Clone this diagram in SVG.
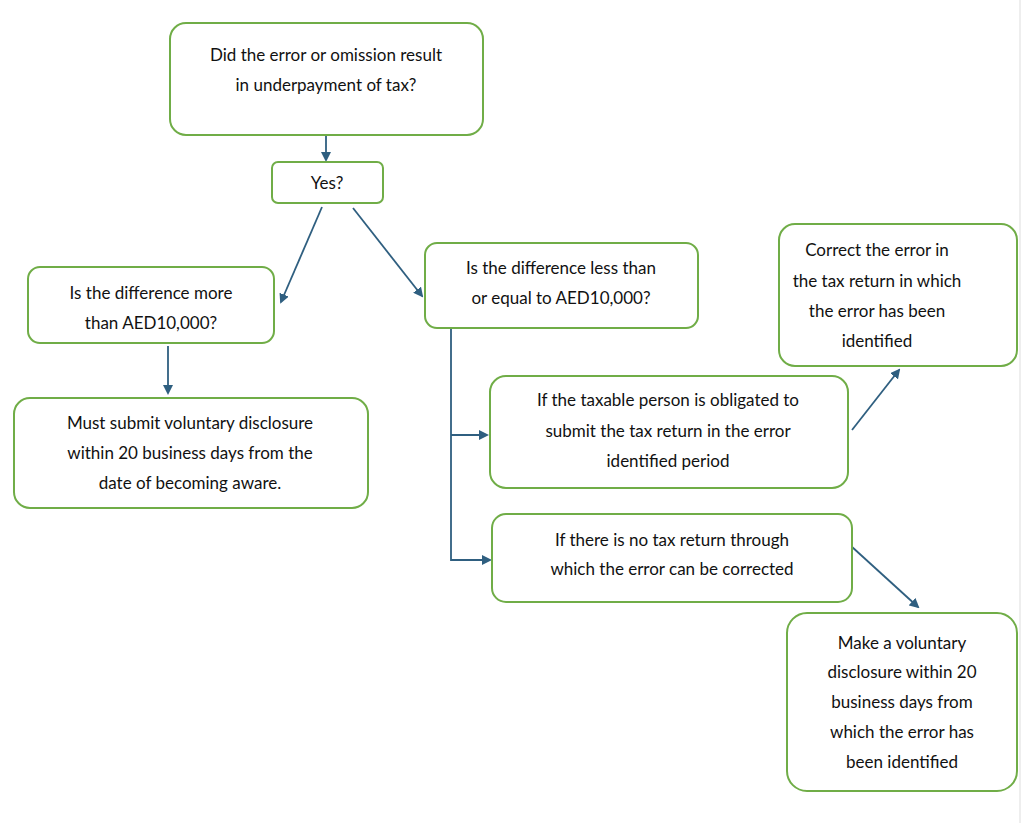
<svg xmlns="http://www.w3.org/2000/svg" width="1024" height="823" viewBox="0 0 1024 823">
<style>
.b{fill:#fff;stroke:#70ad47;stroke-width:2}
.t{font-family:Lato,"Open Sans",sans-serif;font-size:17px;fill:#111;text-anchor:middle}
.c{stroke:#2f5f80;stroke-width:1.8;fill:none}
</style>
<defs><marker id="a" markerWidth="10" markerHeight="10" refX="8" refY="5" orient="auto" markerUnits="userSpaceOnUse"><path d="M0,0 L10,5 L0,10 z" fill="#2f5f80"/></marker></defs>
<rect width="1024" height="823" fill="#fff"/>
<line x1="1020" y1="0" x2="1020" y2="823" stroke="#ddd"/>
<g id="connectors">
<line class="c" x1="326" y1="135" x2="326" y2="160" marker-end="url(#a)"/>
<line class="c" x1="322" y1="207" x2="281" y2="302" marker-end="url(#a)"/>
<line class="c" x1="353" y1="208" x2="422" y2="296" marker-end="url(#a)"/>
<line class="c" x1="168" y1="346" x2="168" y2="393" marker-end="url(#a)"/>
<polyline class="c" points="451,328 451,560 490,560" marker-end="url(#a)"/>
<line class="c" x1="451" y1="435" x2="487" y2="435" marker-end="url(#a)"/>
<line class="c" x1="852" y1="430" x2="899" y2="370" marker-end="url(#a)"/>
<line class="c" x1="851" y1="546" x2="918" y2="607" marker-end="url(#a)"/>
</g>
<g id="n1"><rect class="b" x="170" y="23" width="313" height="112" rx="16"/><text class="t" x="326" y="61">Did the error or omission result</text><text class="t" x="326" y="91">in underpayment of tax?</text></g>
<g id="n2"><rect class="b" x="272" y="162" width="111" height="41" rx="6"/><text class="t" x="327" y="189">Yes?</text></g>
<g id="n3"><rect class="b" x="28" y="267" width="246" height="76" rx="12"/><text class="t" x="151" y="299">Is the difference more</text><text class="t" x="151" y="329">than AED10,000?</text></g>
<g id="n4"><rect class="b" x="425" y="243" width="273" height="85" rx="12"/><text class="t" x="561" y="274">Is the difference less than</text><text class="t" x="561" y="304">or equal to AED10,000?</text></g>
<g id="n5"><rect class="b" x="779" y="224" width="238" height="142" rx="16"/><text class="t" x="877" y="256">Correct the error in</text><text class="t" x="877" y="287">the tax return in which</text><text class="t" x="877" y="317">the error has been</text><text class="t" x="877" y="347">identified</text></g>
<g id="n6"><rect class="b" x="14" y="398" width="354" height="110" rx="16"/><text class="t" x="190" y="429">Must submit voluntary disclosure</text><text class="t" x="190" y="459">within 20 business days from the</text><text class="t" x="190" y="489">date of becoming aware.</text></g>
<g id="n7"><rect class="b" x="490" y="376" width="358" height="112" rx="16"/><text class="t" x="668" y="406">If the taxable person is obligated to</text><text class="t" x="668" y="437">submit the tax return in the error</text><text class="t" x="668" y="467">identified period</text></g>
<g id="n8"><rect class="b" x="492" y="514" width="360" height="88" rx="14"/><text class="t" x="672" y="546">If there is no tax return through</text><text class="t" x="672" y="575">which the error can be corrected</text></g>
<g id="n9"><rect class="b" x="787" y="613" width="230" height="178" rx="20"/><text class="t" x="902" y="649">Make a voluntary</text><text class="t" x="902" y="678">disclosure within 20</text><text class="t" x="902" y="708">business days from</text><text class="t" x="902" y="738">which the error has</text><text class="t" x="902" y="768">been identified</text></g>
</svg>
